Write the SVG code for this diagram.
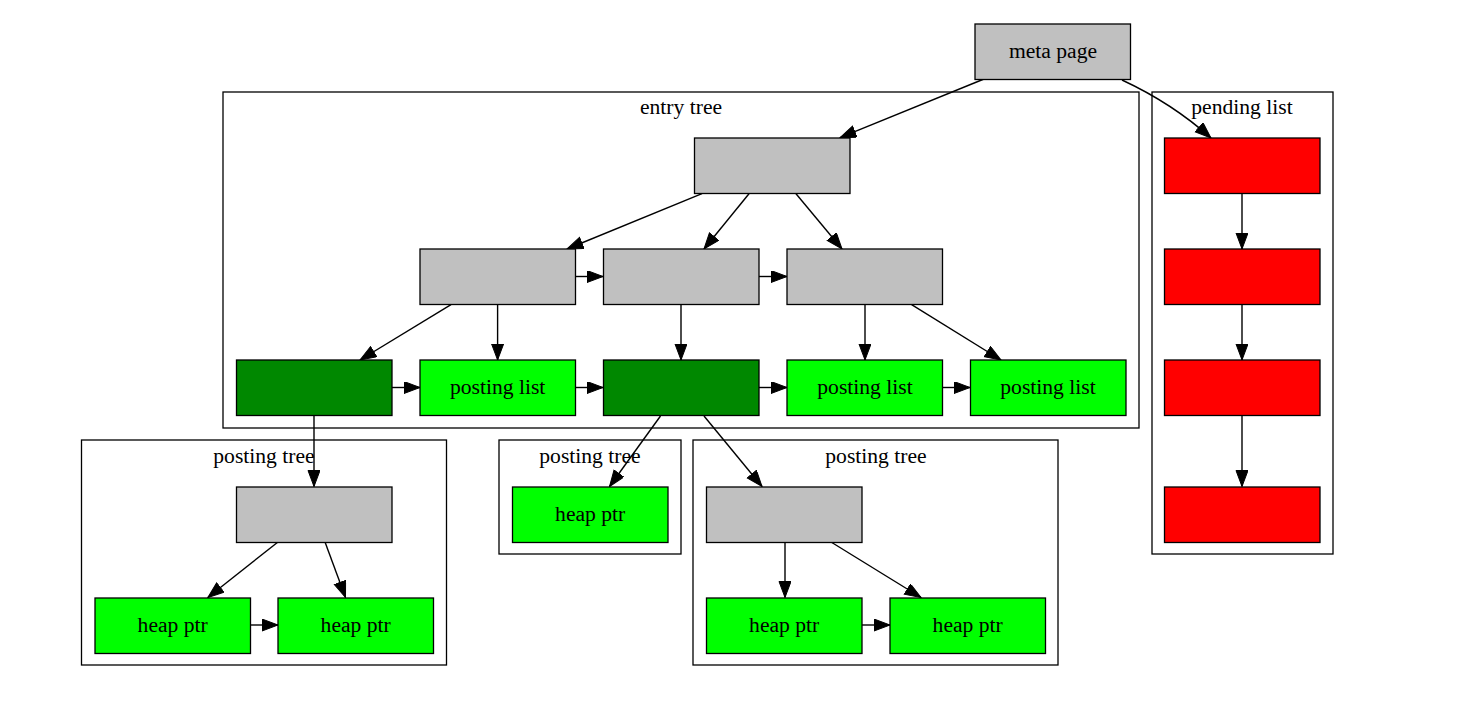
<svg xmlns="http://www.w3.org/2000/svg" width="1474" height="709" viewBox="0 0 1474 709">
<style>
text{font-family:"Liberation Serif","Times New Roman",serif;font-size:21.6px;fill:#000;text-anchor:middle}
.cl{fill:none;stroke:#000;stroke-width:1.3}
.n rect{stroke:#000;stroke-width:1.3}
.g{fill:#c0c0c0}.lg{fill:#00ff00}.dg{fill:#008800}.r{fill:#ff0000}
#edges path{fill:none;stroke:#000;stroke-width:1.4;marker-end:url(#ah)}
</style>
<defs>
<marker id="ah" markerUnits="userSpaceOnUse" markerWidth="18" markerHeight="14" refX="16.5" refY="6" orient="auto" viewBox="0 0 18 14">
<path d="M0.5,0 L16.5,6 L0.5,12 Z" fill="#000" stroke="#000" stroke-width="1"/>
</marker>
</defs>
<rect width="1474" height="709" fill="#fff"/>
<g id="clusters">
<g id="entry_tree"><rect class="cl" x="223" y="92" width="916" height="336"/><text x="681" y="114">entry tree</text></g>
<g id="pending_list"><rect class="cl" x="1152" y="92" width="181" height="462"/><text x="1242" y="114">pending list</text></g>
<g id="posting_tree1"><rect class="cl" x="81.5" y="440" width="365" height="225"/><text x="264" y="463">posting tree</text></g>
<g id="posting_tree2"><rect class="cl" x="499" y="440" width="182" height="114"/><text x="590" y="463">posting tree</text></g>
<g id="posting_tree3"><rect class="cl" x="693" y="440" width="365" height="225"/><text x="876" y="463">posting tree</text></g>
</g>
<g id="edges">
<path d="M984,79 L840,137.7"/>
<path d="M1122,80 C1150,93 1182,112 1211,138"/>
<path d="M702,193.7 L567,249"/>
<path d="M749,193.7 L704,249"/>
<path d="M796,193.7 L842,249"/>
<path d="M575,276.5 L603,276.5"/>
<path d="M759,276.5 L787,276.5"/>
<path d="M451,304.7 L360,360"/>
<path d="M497.6,304.7 L497.6,360"/>
<path d="M681,304.7 L681,360"/>
<path d="M865,304.7 L865,360"/>
<path d="M911.6,304.7 L1001,360"/>
<path d="M392,387.5 L420,387.5"/>
<path d="M575,387.5 L603,387.5"/>
<path d="M759,387.5 L787,387.5"/>
<path d="M943,387.5 L970,387.5"/>
<path d="M314,416 L314,486.5"/>
<path d="M660.5,416 L609.5,486.5"/>
<path d="M704,416 L762,486.5"/>
<path d="M278,542 L207.8,597.5"/>
<path d="M325,542 L345.5,597.5"/>
<path d="M250.5,625 L278,625"/>
<path d="M785,542 L785,597.5"/>
<path d="M831,542 L921,597.5"/>
<path d="M862,625 L890,625"/>
<path d="M1242,193.7 L1242,249"/>
<path d="M1242,304.7 L1242,360"/>
<path d="M1242,416 L1242,486.5"/>
</g>
<g id="meta" class="n"><rect class="g" x="975" y="24" width="155.5" height="55.5"/><text x="1053" y="58">meta page</text></g>
<g id="root" class="n"><rect class="g" x="694.5" y="138" width="155.5" height="55.5"/></g>
<g id="l2a" class="n"><rect class="g" x="420" y="249" width="155.5" height="55.5"/></g>
<g id="l2b" class="n"><rect class="g" x="603.5" y="249" width="155.5" height="55.5"/></g>
<g id="l2c" class="n"><rect class="g" x="787" y="249" width="155.5" height="55.5"/></g>
<g id="dg1" class="n"><rect class="dg" x="236.5" y="360" width="155.5" height="55.5"/></g>
<g id="pl1" class="n"><rect class="lg" x="420" y="360" width="155.5" height="55.5"/><text x="497.6" y="394">posting list</text></g>
<g id="dg2" class="n"><rect class="dg" x="603.5" y="360" width="155.5" height="55.5"/></g>
<g id="pl3" class="n"><rect class="lg" x="787" y="360" width="155.5" height="55.5"/><text x="865" y="394">posting list</text></g>
<g id="pl4" class="n"><rect class="lg" x="970.5" y="360" width="155.5" height="55.5"/><text x="1048" y="394">posting list</text></g>
<g id="pt1root" class="n"><rect class="g" x="236.5" y="487" width="155.5" height="55.5"/></g>
<g id="hp1" class="n"><rect class="lg" x="95" y="598" width="155.5" height="55.5"/><text x="172.7" y="631.5">heap ptr</text></g>
<g id="hp2" class="n"><rect class="lg" x="278" y="598" width="155.5" height="55.5"/><text x="355.7" y="631.5">heap ptr</text></g>
<g id="hp3" class="n"><rect class="lg" x="512.5" y="487" width="155.5" height="55.5"/><text x="590.2" y="520.5">heap ptr</text></g>
<g id="pt3root" class="n"><rect class="g" x="706.5" y="487" width="155.5" height="55.5"/></g>
<g id="hp4" class="n"><rect class="lg" x="706.5" y="598" width="155.5" height="55.5"/><text x="784.2" y="631.5">heap ptr</text></g>
<g id="hp5" class="n"><rect class="lg" x="890" y="598" width="155.5" height="55.5"/><text x="967.7" y="631.5">heap ptr</text></g>
<g id="pend1" class="n"><rect class="r" x="1164.5" y="138" width="155.5" height="55.5"/></g>
<g id="pend2" class="n"><rect class="r" x="1164.5" y="249" width="155.5" height="55.5"/></g>
<g id="pend3" class="n"><rect class="r" x="1164.5" y="360" width="155.5" height="55.5"/></g>
<g id="pend4" class="n"><rect class="r" x="1164.5" y="487" width="155.5" height="55.5"/></g>
</svg>
